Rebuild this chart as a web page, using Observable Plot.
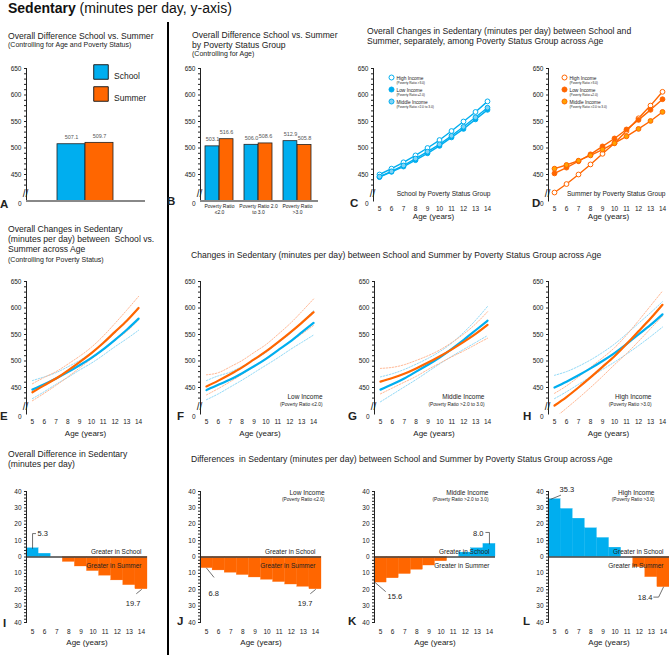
<!DOCTYPE html>
<html><head><meta charset="utf-8">
<script src="https://cdn.jsdelivr.net/npm/d3@7"></script>
<script src="https://cdn.jsdelivr.net/npm/@observablehq/plot@0.6"></script>
<style>
body{margin:0;background:#fff;}
#root{position:relative;width:669px;height:655px;overflow:hidden;background:#fff;font-family:"Liberation Sans",Arial,sans-serif;}
</style></head><body><div id="root"></div>
<script>
// ---------------- DATA ----------------
const ages = [5, 6, 7, 8, 9, 10, 11, 12, 13, 14];

// A: overall means
const seasons = ["School", "Summer"];
const overallMean = [507.1, 509.7];

// B: by poverty status group
const povertyGroups = ["Poverty Ratio\n≤2.0", "Poverty Ratio 2.0\nto 3.0", "Poverty Ratio\n>3.0"];
const groupSchool = [503.1, 506.0, 512.9];
const groupSummer = [516.6, 508.6, 505.8];

// C / D: by income across age
const incomeNames = ["High Income", "Low Income", "Middle Income"];
const incomeRatios = ["(Poverty Ratio >3.0)", "(Poverty Ratio ≤2.0)", "(Poverty Ratio >2.0 to 3.0)"];
const schoolHigh = [450, 461, 473, 486, 500, 515, 532, 550, 568, 588];
const schoolLow  = [445, 455, 465, 477, 490, 504, 520, 536, 554, 572];
const schoolMid  = [446, 456, 467, 480, 493, 507, 523, 540, 558, 576];
const summerHigh = [416, 432, 450, 469, 489, 509, 532, 556, 580, 606];
const summerLow  = [452, 463, 475, 488, 503, 518, 535, 553, 572, 592];
const summerMid  = [461, 468, 476, 486, 497, 509, 522, 536, 551, 568];

// E: overall curves with confidence bounds
const allSchool   = [446, 456, 467, 479, 492, 506, 522, 540, 559, 580];
const allSchoolLo = [429, 442, 456, 469, 483, 496, 511, 527, 542, 558];
const allSchoolHi = [463, 470, 478, 489, 501, 516, 533, 553, 576, 602];
const allSummer   = [441, 454, 467, 482, 498, 515, 534, 555, 576, 600];
const allSummerLo = [425, 439, 454, 470, 487, 504, 521, 539, 556, 578];
const allSummerHi = [457, 469, 480, 494, 509, 526, 547, 571, 596, 622];

// F: low income
const lowSchoolLo = [427, 438, 451, 464, 478, 492, 506, 521, 535, 549];
const lowSchoolHi = [463, 472, 479, 490, 502, 516, 534, 551, 573, 595];
const lowSummerLo = [436, 448, 461, 475, 490, 505, 520, 536, 551, 567];
const lowSummerHi = [474, 478, 489, 501, 516, 531, 550, 570, 593, 617];
// G: middle income
const midSchoolLo = [423, 437, 451, 465, 480, 495, 509, 522, 535, 548];
const midSchoolHi = [470, 476, 484, 494, 505, 518, 534, 554, 577, 603];
const midSummerLo = [438, 449, 460, 471, 484, 496, 508, 519, 531, 543];
const midSummerHi = [486, 488, 493, 501, 510, 521, 535, 551, 570, 593];
// H: high income
const highSchoolLo = [429, 442, 456, 470, 484, 498, 513, 529, 546, 564];
const highSchoolHi = [473, 480, 490, 502, 516, 532, 551, 571, 591, 612];
const highSummerLo = [392, 411, 430, 450, 471, 493, 514, 537, 561, 585];
const highSummerHi = [439, 453, 470, 488, 506, 525, 549, 576, 604, 632];

// I-L: differences (school minus summer)
const diffOverall = [5.3, 2.0, 0, -3.0, -5.8, -8.6, -11.4, -14.3, -17.2, -19.7];
const diffLow     = [-6.8, -8.2, -9.6, -11.0, -12.5, -13.9, -15.3, -16.8, -18.2, -19.7];
const diffMid     = [-15.6, -13.0, -10.4, -7.8, -5.2, -2.6, 0, 2.7, 5.3, 8.0];
const diffHigh    = [35.3, 29.3, 23.4, 17.5, 11.6, 5.7, 0, -6.2, -12.3, -18.4];

// ---------------- LAYOUT HELPERS ----------------
const root = document.getElementById("root");
const FONT = '"Liberation Sans", Arial, Helvetica, sans-serif';
const BLUE = "#00AEEF", ORANGE = "#FF6600";
const BLUE_CI = "#86d5f5", ORANGE_CI = "#ffb089";
const BLUE_MID = "#7fd2f5", ORANGE_MID = "#FFA200";
const TXT = "#222";
const M = {l: 36, r: 14, t: 16, b: 36};

function place(fr, opts) {
  const svg = Plot.plot({
    width: fr.x1 - fr.x0 + M.l + M.r,
    height: fr.y1 - fr.y0 + M.t + M.b,
    marginLeft: M.l, marginRight: M.r, marginTop: M.t, marginBottom: M.b,
    style: {background: "transparent", overflow: "visible", fontFamily: FONT, fontSize: "6.5px", color: TXT},
    ...opts
  });
  svg.style.position = "absolute";
  svg.style.left = (fr.x0 - M.l) + "px";
  svg.style.top = (fr.y0 - M.t) + "px";
  svg.style.maxWidth = "none";
  root.appendChild(svg);
  return svg;
}
const px = (fr, ax) => ax - fr.x0 + M.l;

function levelAxis() {
  return [
    Plot.axisY({ticks: [450, 500, 550, 600, 650], tickSize: 0, tickPadding: 5, fontSize: 6.5}),
    Plot.axisY({ticks: d3.range(430, 651, 10), tickSize: 2, text: null, stroke: TXT}),
    Plot.frame({anchor: "left", stroke: TXT, strokeWidth: 1}),
    Plot.text(["0"], {frameAnchor: "bottom-left", dx: -5, dy: 4.5, textAnchor: "end", fontSize: 6.5, fill: TXT}),
    Plot.text(["//"], {frameAnchor: "bottom-left", dx: -1, dy: -4, fontSize: 10, textAnchor: "middle", fill: TXT})
  ];
}
function ageAxis(pad, labelDy) {
  return [
    Plot.axisX({ticks: ages, tickSize: 0, tickPadding: pad, fontSize: 6.5}),
    Plot.text(["Age (years)"], {frameAnchor: "bottom", dy: labelDy, lineAnchor: "bottom", fontSize: 8, fill: TXT})
  ];
}

// ---------------- A ----------------
const frA = {x0: 26, x1: 145, y0: 68, y1: 200.5};
const rowsA = seasons.map((s, i) => ({season: s, value: overallMean[i]}));
place(frA, {
  x: {domain: seasons, range: [px(frA, 57), px(frA, 113)], padding: 0, axis: null, label: null},
  y: {domain: [400, 650], axis: null, label: null},
  marks: [
    ...levelAxis(),
    Plot.barY(rowsA, {x: "season", y1: 400, y2: "value", fill: d => d.season === "School" ? BLUE : ORANGE, stroke: TXT, strokeWidth: 0.8}),
    Plot.ruleY([400], {stroke: "#888", strokeWidth: 2}),
    Plot.text(rowsA, {x: "season", y: "value", text: d => d.value.toFixed(1), dy: -7, fontSize: 5.5, fill: "#555"}),
    ...seasons.map((s, i) => Plot.dot([s], {frameAnchor: "top-left", dx: 74.5, dy: [3.5, 25.5][i], symbol: "square", r: 8.2, fill: [BLUE, ORANGE][i], stroke: TXT, strokeWidth: 1})),
    ...seasons.map((s, i) => Plot.text([s], {frameAnchor: "top-left", dx: 87.5, dy: [4, 26.5][i], textAnchor: "start", fontSize: 8.5, fill: TXT}))
  ]
});

// ---------------- B ----------------
const frB = {x0: 200, x1: 318, y0: 68, y1: 200.5};
const rowsBSchool = povertyGroups.map((g, i) => ({group: g, value: groupSchool[i]}));
const rowsBSummer = povertyGroups.map((g, i) => ({group: g, value: groupSummer[i]}));
place(frB, {
  x: {domain: povertyGroups, range: [px(frB, 205), px(frB, 312)], paddingInner: 0.28, paddingOuter: 0, label: null},
  y: {domain: [400, 650], axis: null, label: null},
  marks: [
    ...levelAxis(),
    Plot.barY(rowsBSchool, {x: "group", y1: 400, y2: "value", insetRight: 14.15, fill: BLUE, stroke: TXT, strokeWidth: 0.8}),
    Plot.barY(rowsBSummer, {x: "group", y1: 400, y2: "value", insetLeft: 14.15, fill: ORANGE, stroke: TXT, strokeWidth: 0.8}),
    Plot.ruleY([400], {stroke: "#888", strokeWidth: 2}),
    Plot.axisX({tickSize: 0, tickPadding: 3, fontSize: 5, lineHeight: 1.15}),
    Plot.text(rowsBSchool, {x: "group", y: "value", text: d => d.value.toFixed(1), dx: -7, dy: -7, fontSize: 5.5, fill: "#555"}),
    Plot.text(rowsBSummer, {x: "group", y: "value", text: d => d.value.toFixed(1), dx: 7, dy: -7, fontSize: 5.5, fill: "#555"})
  ]
});

// ---------------- C / D ----------------
function markerPanel(fr, series, color, midFill, caption, legDx) {
  const rows = incomeNames.flatMap((n, k) => ages.map((a, i) => ({income: n, age: a, value: series[k][i]})));
  const fillOf = {"High Income": "white", "Low Income": color, "Middle Income": midFill};
  const legDy = [9, 21, 33];
  place(fr, {
    x: {domain: [4.5, 14.5], label: null},
    y: {domain: [400, 650], axis: null, label: null},
    marks: [
      ...levelAxis(),
      ...ageAxis(5.2, 18),
      Plot.line(rows, {x: "age", y: "value", z: "income", stroke: color, strokeWidth: 1.4}),
      Plot.dot(rows, {x: "age", y: "value", fill: d => fillOf[d.income], stroke: color, strokeWidth: 1, r: 2.4}),
      Plot.text([caption], {frameAnchor: "bottom-right", dx: -3, dy: -5.5, textAnchor: "end", lineAnchor: "bottom", fontSize: 6.6, fill: TXT}),
      ...incomeNames.map((n, k) => Plot.dot([n], {frameAnchor: "top-left", dx: legDx, dy: legDy[k], r: 2.5, fill: fillOf[n], stroke: color, strokeWidth: 1})),
      ...incomeNames.map((n, k) => Plot.text([n], {frameAnchor: "top-left", dx: legDx + 5, dy: legDy[k] - 0.5, textAnchor: "start", fontSize: 4.8, fill: TXT})),
      ...incomeRatios.map((n, k) => Plot.text([n], {frameAnchor: "top-left", dx: legDx + 5, dy: legDy[k] + 3.8, textAnchor: "start", fontSize: 3.2, fill: TXT}))
    ]
  });
}
markerPanel({x0: 373, x1: 493, y0: 68, y1: 200.5}, [schoolHigh, schoolLow, schoolMid], BLUE, BLUE_MID, "School by Poverty Status Group", 18);
markerPanel({x0: 548, x1: 668, y0: 68, y1: 200.5}, [summerHigh, summerLow, summerMid], ORANGE, ORANGE_MID, "Summer by Poverty Status Group", 16);

// ---------------- E - H ----------------
function curvePanel(fr, s, sLo, sHi, u, uLo, uHi, label, sub, labelDx) {
  const mk = arr => ages.map((a, i) => ({age: a, value: arr[i]}));
  const ci = (arr, c) => Plot.line(mk(arr), {x: "age", y: "value", curve: "natural", stroke: c, strokeWidth: 0.9, strokeDasharray: "1.5,1.5", clip: true});
  const marks = [
    ...levelAxis(),
    ...ageAxis(5.7, 21.5),
    ci(sLo, BLUE_CI), ci(sHi, BLUE_CI), ci(uLo, ORANGE_CI), ci(uHi, ORANGE_CI),
    Plot.line(mk(s), {x: "age", y: "value", curve: "natural", stroke: BLUE, strokeWidth: 2.2, clip: true}),
    Plot.line(mk(u), {x: "age", y: "value", curve: "natural", stroke: ORANGE, strokeWidth: 2.2, clip: true})
  ];
  if (label) {
    marks.push(Plot.text([label], {frameAnchor: "bottom-right", dx: labelDx, dy: -15, textAnchor: "end", lineAnchor: "bottom", fontSize: 6.5, fill: TXT}));
    marks.push(Plot.text([sub], {frameAnchor: "bottom-right", dx: labelDx, dy: -8.5, textAnchor: "end", lineAnchor: "bottom", fontSize: 4.8, fill: TXT}));
  }
  place(fr, {x: {domain: [4.5, 14.5], label: null}, y: {domain: [400, 650], axis: null, label: null}, marks});
}
curvePanel({x0: 26, x1: 144, y0: 281, y1: 413.5}, allSchool, allSchoolLo, allSchoolHi, allSummer, allSummerLo, allSummerHi);
curvePanel({x0: 200, x1: 319, y0: 281, y1: 413.5}, schoolLow, lowSchoolLo, lowSchoolHi, summerLow, lowSummerLo, lowSummerHi, "Low Income", incomeRatios[1], 3);
curvePanel({x0: 374, x1: 493, y0: 281, y1: 413.5}, schoolMid, midSchoolLo, midSchoolHi, summerMid, midSummerLo, midSummerHi, "Middle Income", incomeRatios[2], -9);
curvePanel({x0: 548, x1: 668, y0: 281, y1: 413.5}, schoolHigh, highSchoolLo, highSchoolHi, summerHigh, highSummerLo, highSummerHi, "High Income", incomeRatios[0], -17);

// ---------------- I - L ----------------
function diffPanel(fr, diffs, notes, label, sub, labelDx) {
  const rows = ages.map((a, i) => ({age: a, value: diffs[i]}));
  const marks = [
    Plot.rectY(rows, {x1: d => d.age - 0.5, x2: d => d.age + 0.5, y1: 0, y2: "value", inset: 0, insetLeft: 0, insetRight: 0,
      fill: d => d.value >= 0 ? BLUE : ORANGE, stroke: d => d.value >= 0 ? BLUE : ORANGE, strokeWidth: 0.3}),
    Plot.ruleY([0], {stroke: "#444", strokeWidth: 1.3}),
    Plot.axisY({ticks: d3.range(-40, 41, 10), tickFormat: d => Math.abs(d), tickSize: 0, tickPadding: 5, fontSize: 6.5}),
    Plot.axisY({ticks: d3.range(-40, 41, 2), tickSize: 2, text: null, stroke: TXT}),
    Plot.frame({anchor: "left", stroke: TXT, strokeWidth: 1}),
    ...ageAxis(6.7, 22.5),
    Plot.text(["Greater in School"], {y: () => 0, frameAnchor: "right", dx: -6, dy: -3, textAnchor: "end", lineAnchor: "bottom", fontSize: 6.5, fill: TXT}),
    Plot.text(["Greater in Summer"], {y: () => 0, frameAnchor: "right", dx: -6, dy: 10.5, textAnchor: "end", lineAnchor: "bottom", fontSize: 6.5, fill: TXT})
  ];
  for (const n of notes) {
    const d = rows[n.i];
    marks.push(Plot.text([d], {x: "age", y: "value", text: v => Math.abs(v.value).toFixed(1), dx: n.dx, dy: n.dy, textAnchor: n.anchor, fontSize: 7.5, fill: TXT}));
    marks.push(Plot.line(n.leader.map(([a, b]) => ({age: d.age + a, value: d.value + b})), {x: "age", y: "value", stroke: "#333", strokeWidth: 0.7}));
  }
  if (label) {
    marks.push(Plot.text([label], {frameAnchor: "top-right", dx: labelDx, dy: 3, textAnchor: "end", lineAnchor: "bottom", fontSize: 6.5, fill: TXT}));
    marks.push(Plot.text([sub], {frameAnchor: "top-right", dx: labelDx, dy: 9.5, textAnchor: "end", lineAnchor: "bottom", fontSize: 4.8, fill: TXT}));
  }
  place(fr, {x: {domain: [4.5, 14.5], label: null}, y: {domain: [-40, 40], axis: null, label: null}, marks});
}
diffPanel({x0: 26, x1: 147, y0: 491, y1: 622}, diffOverall, [
  {i: 0, dx: 5, dy: -15, anchor: "start", leader: [[0, 0], [0, 9], [0.25, 9]]},
  {i: 9, dx: -1, dy: 14, anchor: "end", leader: [[0, -0.2], [-0.4, -2.6]]}
]);
diffPanel({x0: 200, x1: 321, y0: 491, y1: 622}, diffLow, [
  {i: 0, dx: 2, dy: 25, anchor: "start", leader: [[0, 0], [0.6, -5.5]]},
  {i: 9, dx: -3, dy: 14, anchor: "end", leader: [[0, -0.2], [-0.4, -2.6]]}
], "Low Income", incomeRatios[1], 3);
diffPanel({x0: 374, x1: 495, y0: 491, y1: 622}, diffMid, [
  {i: 9, dx: -6, dy: -10.7, anchor: "end", leader: [[0, 0], [0, 7], [-0.3, 7]]},
  {i: 0, dx: 7, dy: 14, anchor: "start", leader: [[-0.45, 0], [0.4, -5.4]]}
], "Middle Income", incomeRatios[2], -7);
diffPanel({x0: 548, x1: 669, y0: 491, y1: 622}, diffHigh, [
  {i: 0, dx: 5, dy: -10, anchor: "start", leader: [[-0.3, 0], [0.5, 2.4]]},
  {i: 9, dx: -11, dy: 10.5, anchor: "end", leader: [[0, 0], [-0.4, -6.1], [-0.8, -6.1]]}
], "High Income", incomeRatios[0], -15);

// ---------------- TITLES / DIVIDER ----------------
const div = document.createElement("div");
Object.assign(div.style, {position: "absolute", left: "166.5px", top: "22px", width: "2.5px", height: "640px", background: "#000"});
root.appendChild(div);

const ov = d3.select(root).append("svg")
  .attr("width", 669).attr("height", 655)
  .style("position", "absolute").style("left", "0px").style("top", "0px")
  .style("pointer-events", "none").style("font-family", FONT);
function t(x, y, str, size, weight) {
  ov.append("text").attr("x", x).attr("y", y).attr("font-size", size)
    .attr("font-weight", weight || "normal").attr("fill", TXT)
    .style("white-space", "pre").text(str);
}
const head = ov.append("text").attr("x", 8).attr("y", 12.5).attr("font-size", 14).attr("fill", "#111");
head.append("tspan").attr("font-weight", "bold").text("Sedentary");
head.append("tspan").text(" (minutes per day, y-axis)");

t(8, 38.5, "Overall Difference School vs. Summer", 8.6);
t(8, 47, "(Controlling for Age and Poverty Status)", 7);
t(192, 37.5, "Overall Difference School vs. Summer", 8.6);
t(192, 47.5, "by Poverty Status Group", 8.6);
t(192, 55.5, "(Controlling for Age)", 7);
t(367, 33.5, "Overall Changes in Sedentary (minutes per day) between School and", 8.6);
t(367, 43.5, "Summer, separately, among Poverty Status Group across Age", 8.6);
t(8, 232, "Overall Changes in Sedentary", 8.6);
t(8, 242, "(minutes per day) between  School vs.", 8.6);
t(8, 252, "Summer across Age", 8.6);
t(8, 261.5, "(Controlling for Poverty Status)", 7);
t(191, 257.5, "Changes in Sedentary (minutes per day) between School and Summer by Poverty Status Group across Age", 8.6);
t(8, 457, "Overall Difference in Sedentary", 8.6);
t(8, 466.5, "(minutes per day)", 8.6);
t(191, 462, "Differences  in Sedentary (minutes per day) between School and Summer by Poverty Status Group across Age", 8.6);

const letters = [["A", 0, 208], ["B", 167, 205], ["C", 350, 207], ["D", 532, 207],
  ["E", 0, 420], ["F", 177, 420], ["G", 348, 420], ["H", 523, 420],
  ["I", 3, 627], ["J", 177, 625], ["K", 348, 625], ["L", 523, 625]];
for (const [s, x, y] of letters) t(x, y, s, 11.5, "bold");
</script></body></html>
